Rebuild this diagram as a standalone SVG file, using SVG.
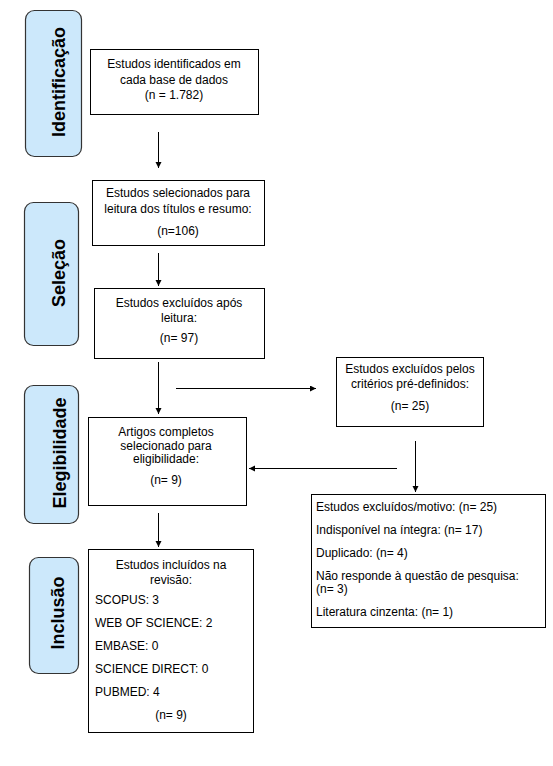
<svg xmlns="http://www.w3.org/2000/svg" width="553" height="766" viewBox="0 0 553 766">
<defs>
<style>
.bg{fill:#ffffff}
.phase rect{fill:#cce8fb;stroke:#333333;stroke-width:1.2}
.phase text{font-family:"Liberation Sans",Arial,sans-serif;font-size:18px;font-weight:bold;fill:#000;text-anchor:middle}
.box rect{fill:#ffffff;stroke:#000000;stroke-width:1}
.box text{font-family:"Liberation Sans",Arial,sans-serif;font-size:12px;fill:#000}
.c{text-anchor:middle}
.conn line{stroke:#000;stroke-width:1}
</style>
<marker id="ah" markerWidth="8" markerHeight="8" refX="6" refY="3" orient="auto" markerUnits="userSpaceOnUse">
<path d="M0,0 L6,3 L0,6 Z" fill="#000"/>
</marker>
</defs>
<rect class="bg" x="0" y="0" width="553" height="766"/>

<g id="phase-identificacao" class="phase">
<rect x="25.5" y="10.5" width="56" height="146" rx="9"/>
<text transform="translate(65,82) rotate(-90)">Identificação</text>
</g>
<g id="phase-selecao" class="phase">
<rect x="24.5" y="202.5" width="54" height="143" rx="9"/>
<text transform="translate(65,273) rotate(-90)">Seleção</text>
</g>
<g id="phase-elegibilidade" class="phase">
<rect x="24.5" y="385.5" width="54" height="138" rx="9"/>
<text transform="translate(66,453) rotate(-90)">Elegibilidade</text>
</g>
<g id="phase-inclusao" class="phase">
<rect x="29.5" y="557.5" width="49" height="116" rx="9"/>
<text transform="translate(64,613) rotate(-90)">Inclusão</text>
</g>

<g id="box-identificados" class="box">
<rect x="90.5" y="49.5" width="168" height="65"/>
<text class="c" x="174" y="68">Estudos identificados em</text>
<text class="c" x="174" y="84">cada base de dados</text>
<text class="c" x="174" y="99">(n = 1.782)</text>
</g>
<g id="box-selecionados" class="box">
<rect x="92.5" y="180.5" width="172" height="65"/>
<text class="c" x="178" y="197">Estudos selecionados para</text>
<text class="c" x="178" y="213">leitura dos títulos e resumo:</text>
<text class="c" x="178" y="235">(n=106)</text>
</g>
<g id="box-excluidos-leitura" class="box">
<rect x="94.5" y="288.5" width="170" height="70"/>
<text class="c" x="179" y="307">Estudos excluídos após</text>
<text class="c" x="179" y="322">leitura:</text>
<text class="c" x="179" y="342">(n= 97)</text>
</g>
<g id="box-excluidos-criterios" class="box">
<rect x="336.5" y="357.5" width="147" height="69"/>
<text class="c" x="410" y="373">Estudos excluídos pelos</text>
<text class="c" x="410" y="388">critérios pré-definidos:</text>
<text class="c" x="410" y="410">(n= 25)</text>
</g>
<g id="box-artigos" class="box">
<rect x="88.5" y="417.5" width="158" height="88"/>
<text class="c" x="166" y="436">Artigos completos</text>
<text class="c" x="166" y="450">selecionado para</text>
<text class="c" x="166" y="463">eligibilidade:</text>
<text class="c" x="166" y="484">(n= 9)</text>
</g>
<g id="box-motivos" class="box">
<rect x="311.5" y="494.5" width="234" height="133"/>
<text x="316" y="511">Estudos excluídos/motivo: (n= 25)</text>
<text x="316" y="534">Indisponível na íntegra: (n= 17)</text>
<text x="316" y="557">Duplicado: (n= 4)</text>
<text x="316" y="580">Não responde à questão de pesquisa:</text>
<text x="316" y="593">(n= 3)</text>
<text x="316" y="616">Literatura cinzenta: (n= 1)</text>
</g>
<g id="box-incluidos" class="box">
<rect x="88.5" y="549.5" width="165" height="183"/>
<text class="c" x="171" y="569">Estudos incluídos na</text>
<text class="c" x="171" y="584">revisão:</text>
<text x="95" y="604">SCOPUS: 3</text>
<text x="95" y="627">WEB OF SCIENCE: 2</text>
<text x="95" y="650">EMBASE: 0</text>
<text x="95" y="673">SCIENCE DIRECT: 0</text>
<text x="95" y="696">PUBMED: 4</text>
<text class="c" x="171" y="719">(n= 9)</text>
</g>

<g id="connectors" class="conn">
<line x1="158.5" y1="132" x2="158.5" y2="168" marker-end="url(#ah)"/>
<line x1="158.5" y1="253" x2="158.5" y2="286" marker-end="url(#ah)"/>
<line x1="158.5" y1="362" x2="158.5" y2="414" marker-end="url(#ah)"/>
<line x1="176" y1="388.5" x2="316" y2="388.5" marker-end="url(#ah)"/>
<line x1="415.5" y1="441" x2="415.5" y2="492" marker-end="url(#ah)"/>
<line x1="397" y1="468.5" x2="249" y2="468.5" marker-end="url(#ah)"/>
<line x1="158.5" y1="513" x2="158.5" y2="547" marker-end="url(#ah)"/>
</g>
</svg>
